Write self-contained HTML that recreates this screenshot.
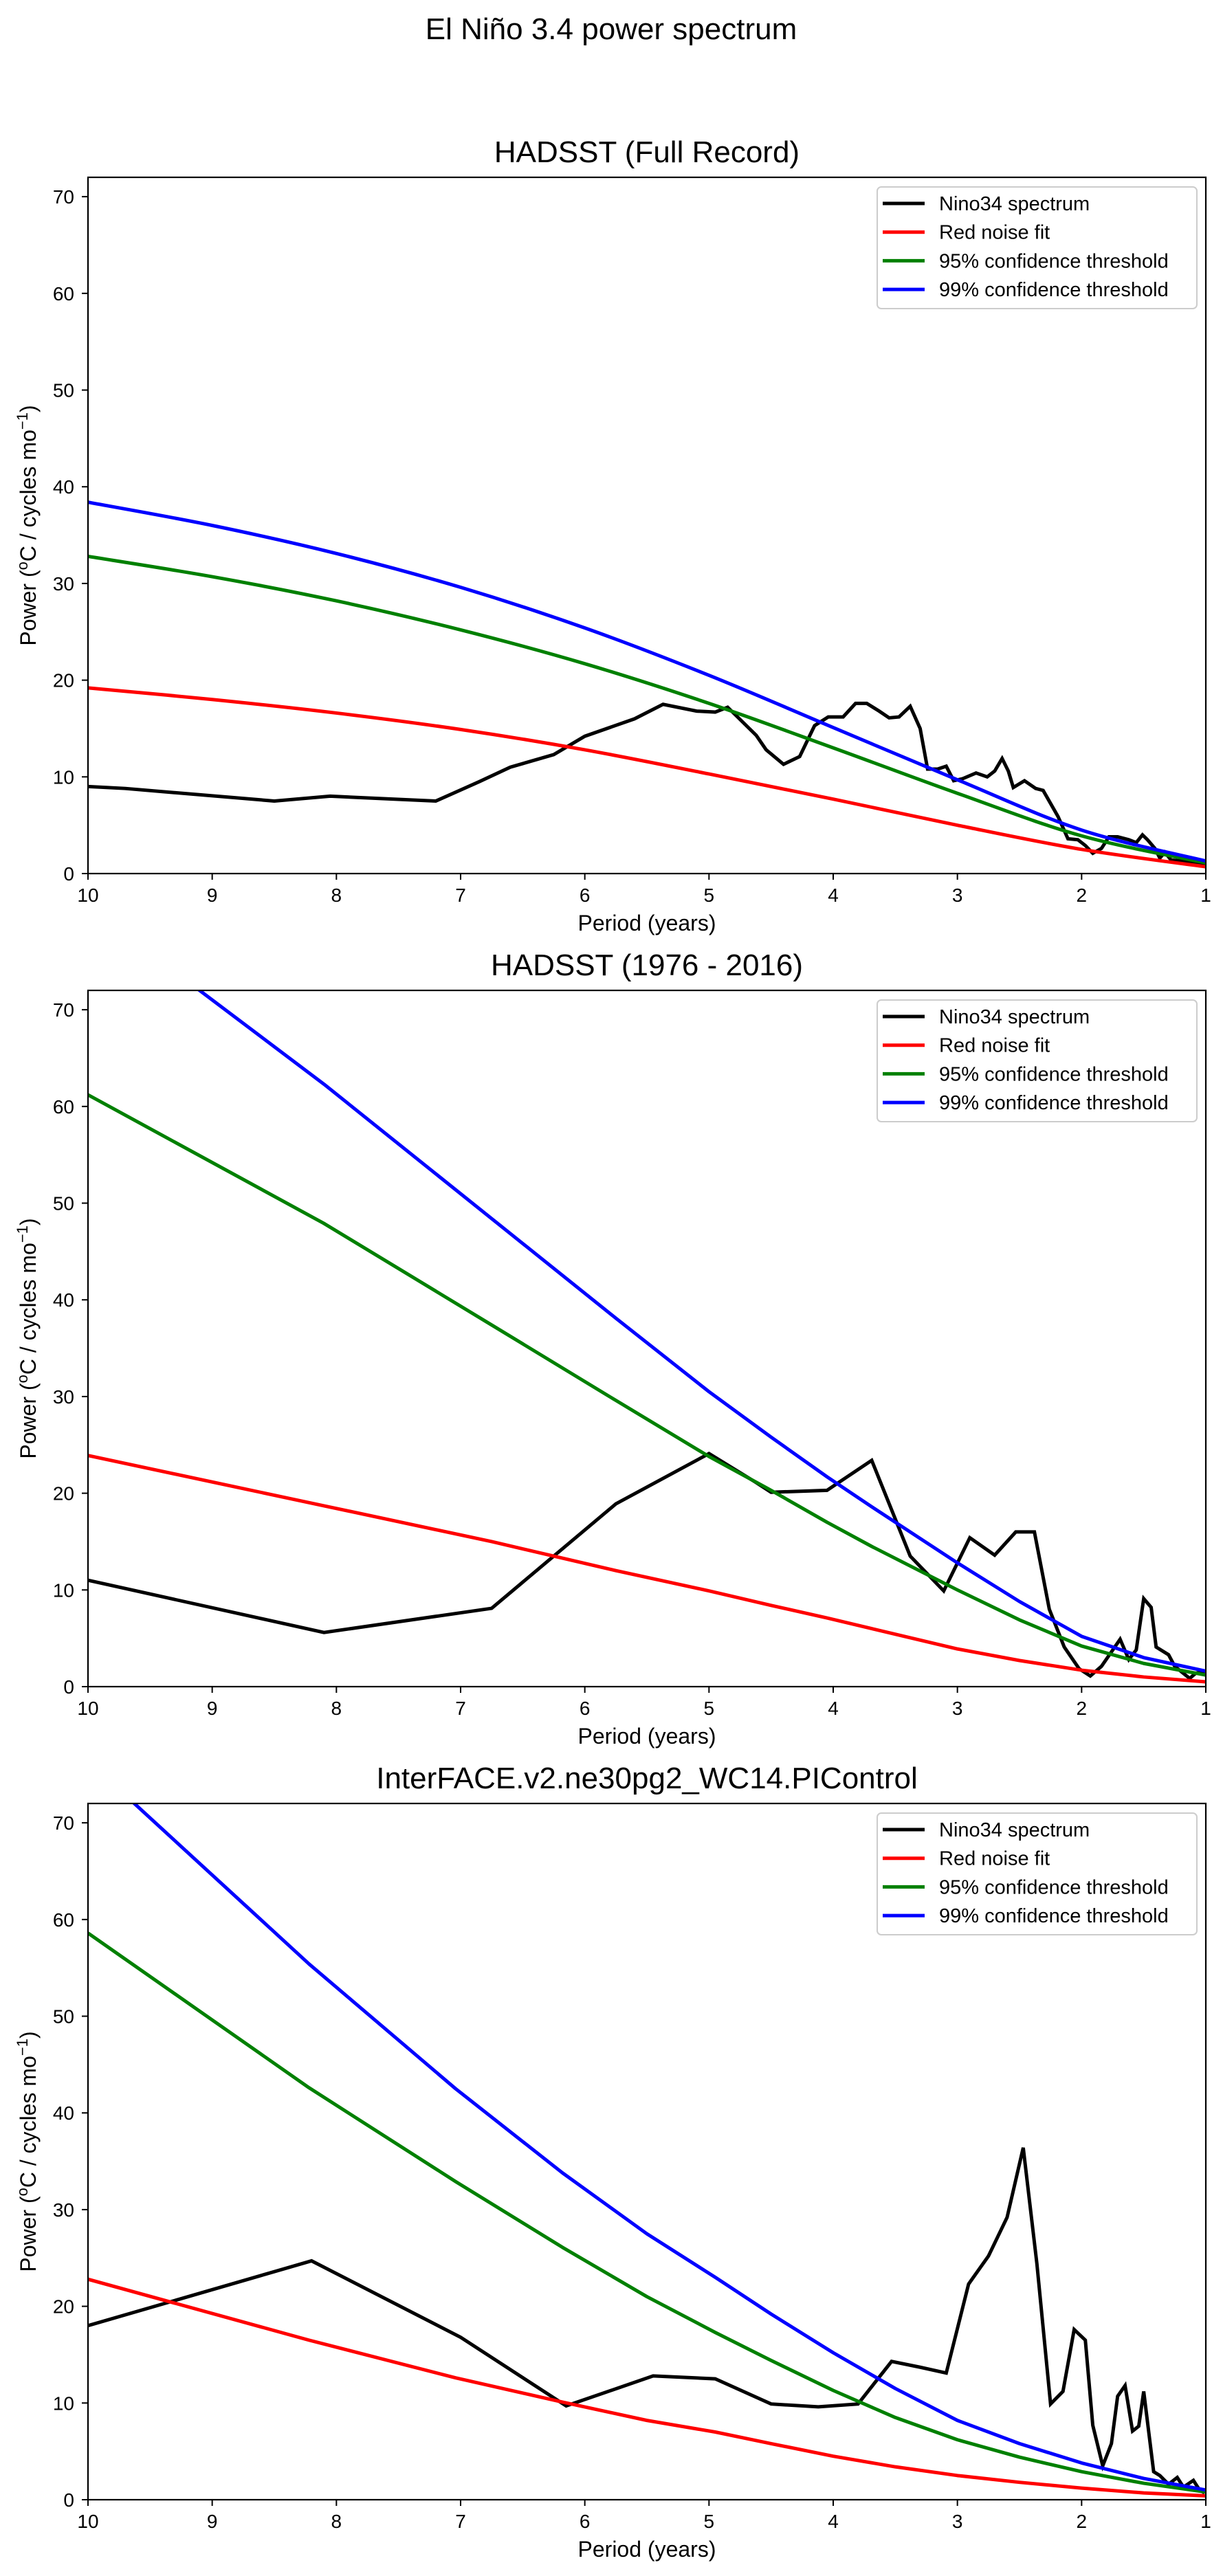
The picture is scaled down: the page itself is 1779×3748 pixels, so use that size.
<!DOCTYPE html>
<html><head><meta charset="utf-8">
<style>
html,body{margin:0;padding:0;background:#fff;}
svg{display:block;font-family:"Liberation Sans","DejaVu Sans",sans-serif;}
</style></head>
<body>
<svg id="fig" width="1779" height="3748" viewBox="0 0 1779 3748" xmlns="http://www.w3.org/2000/svg">
<rect width="1779" height="3748" fill="#fff"/>
<text x="889" y="57" font-size="44" text-anchor="middle">El Niño 3.4 power spectrum</text>
</svg>
<script>
const xTicks = [10,9,8,7,6,5,4,3,2,1];
const yTicks = [0,10,20,30,40,50,60,70];
const legendLabels = ["Nino34 spectrum","Red noise fit","95% confidence threshold","99% confidence threshold"];
const titles = ["HADSST (Full Record)","HADSST (1976 - 2016)","InterFACE.v2.ne30pg2_WC14.PIControl"];

// Panel 1: HADSST full record
const p1SpecPeriod = [10,9.7,8.5,8.05,7.2,6.85,6.6,6.25,6.0,5.6,5.37,5.1,4.95,4.85,4.62,4.54,4.40,4.27,4.15,4.04,3.92,3.82,3.73,3.63,3.55,3.47,3.38,3.30,3.24,3.16,3.09,3.03,2.96,2.85,2.76,2.70,2.64,2.59,2.55,2.46,2.37,2.31,2.19,2.11,2.03,1.97,1.91,1.84,1.78,1.71,1.62,1.56,1.51,1.47,1.41,1.37,1.33,1.28,1.20,1.13,1.0];
const p1SpecPower  = [9.0,8.8,7.5,8.0,7.5,9.5,11.0,12.3,14.2,16.0,17.5,16.8,16.7,17.2,14.3,12.8,11.3,12.1,15.3,16.2,16.2,17.6,17.6,16.8,16.1,16.2,17.3,15.0,10.8,10.8,11.1,9.6,9.8,10.4,10.0,10.6,11.9,10.6,8.9,9.6,8.8,8.6,5.9,3.6,3.5,2.9,2.1,2.6,3.8,3.8,3.5,3.2,4.0,3.5,2.6,1.6,2.2,1.4,1.3,1.1,0.9];
const p1CurvePeriod = [10,9,8,7,6,5,4,3,2,1];
const p1Red   = [19.2,18.0,16.6,14.9,12.8,10.3,7.7,5.0,2.5,0.7];
const p1Green = [32.8,30.7,28.2,25.2,21.7,17.6,13.0,8.3,3.9,1.1];
const p1Blue  = [38.4,36.0,33.1,29.6,25.4,20.5,15.1,9.7,4.5,1.3];

// Panel 2: HADSST 1976-2016
const p2SpecPeriod = [10,8.1,6.75,5.75,5.0,4.62,4.50,4.05,3.69,3.38,3.11,2.90,2.70,2.53,2.38,2.26,2.14,2.02,1.93,1.84,1.69,1.62,1.56,1.50,1.44,1.40,1.30,1.25,1.13,1.08,1.0];
const p2SpecPower  = [11.0,5.6,8.1,18.9,24.1,21.1,20.1,20.3,23.4,13.5,9.9,15.4,13.6,16.0,16.0,8.0,4.1,1.85,1.1,2.1,4.9,2.8,3.8,9.1,8.2,4.1,3.3,2.1,0.85,1.4,1.6];
const p2CurvePeriod = [10,8.1,6.75,5.75,5.0,4.5,4.05,3.69,3.0,2.5,2.0,1.5,1.0];
const p2Red   = [23.9,18.7,15.0,12.0,9.9,8.4,7.1,6.0,3.9,2.7,1.7,1.0,0.5];
const p2Green = [61.2,47.9,37.4,29.6,23.8,20.3,17.0,14.5,10.0,6.9,4.2,2.4,1.2];
const p2Blue  = [80.7,62.3,48.4,38.1,30.5,25.8,21.7,18.6,12.8,8.8,5.2,3.0,1.6];

// Panel 3: model PIControl
const p3SpecPeriod = [10,8.2,7.0,6.15,5.45,4.95,4.50,4.12,3.80,3.53,3.30,3.09,2.91,2.75,2.60,2.47,2.36,2.25,2.15,2.06,1.97,1.91,1.83,1.76,1.71,1.65,1.59,1.54,1.50,1.42,1.37,1.30,1.23,1.18,1.10,1.05,1.01];
const p3SpecPower  = [18.0,24.7,16.8,9.7,12.8,12.5,9.9,9.6,9.9,14.3,13.7,13.1,22.3,25.2,29.2,36.4,24.4,9.9,11.2,17.6,16.5,7.7,3.5,5.8,10.7,11.8,7.1,7.6,11.2,2.9,2.5,1.6,2.3,1.3,2.0,1.0,0.7];
const p3CurvePeriod = [10,8.22,7.04,6.18,5.5,4.95,4.5,4.0,3.5,3.0,2.5,2.0,1.5,1.0];
const p3Red   = [22.8,16.5,12.6,10.1,8.2,7.0,5.8,4.5,3.4,2.5,1.8,1.2,0.7,0.4];
const p3Green = [58.6,42.6,32.9,26.1,21.0,17.3,14.4,11.3,8.5,6.2,4.4,2.9,1.7,0.8];
const p3Blue  = [76.4,55.4,42.5,33.8,27.5,23.0,19.2,15.2,11.5,8.2,5.8,3.8,2.2,1.0];

const panels = [
  {spP:p1SpecPeriod, spV:p1SpecPower, cP:p1CurvePeriod, red:p1Red, green:p1Green, blue:p1Blue, smooth:true},
  {spP:p2SpecPeriod, spV:p2SpecPower, cP:p2CurvePeriod, red:p2Red, green:p2Green, blue:p2Blue, smooth:false},
  {spP:p3SpecPeriod, spV:p3SpecPower, cP:p3CurvePeriod, red:p3Red, green:p3Green, blue:p3Blue, smooth:false}
];

const NS = "http://www.w3.org/2000/svg";
const fig = document.getElementById('fig');
const AX_L = 128, AX_R = 1754, AX_H = 1013, PANEL_DY = 1183, FIRST_BOTTOM = 1271;
const YMAX = 72;

function mk(tag, attrs, parent){
  const e = document.createElementNS(NS, tag);
  for (const k in attrs) e.setAttribute(k, attrs[k]);
  parent.appendChild(e);
  return e;
}
function splinePath(pts){
  let d = "M" + pts[0][0].toFixed(2) + "," + pts[0][1].toFixed(2);
  for (let i=0;i<pts.length-1;i++){
    const p0 = pts[Math.max(0,i-1)], p1 = pts[i], p2 = pts[i+1], p3 = pts[Math.min(pts.length-1,i+2)];
    const c1x = p1[0]+(p2[0]-p0[0])/6, c1y = p1[1]+(p2[1]-p0[1])/6;
    const c2x = p2[0]-(p3[0]-p1[0])/6, c2y = p2[1]-(p3[1]-p1[1])/6;
    d += " C"+c1x.toFixed(2)+","+c1y.toFixed(2)+" "+c2x.toFixed(2)+","+c2y.toFixed(2)+" "+p2[0].toFixed(2)+","+p2[1].toFixed(2);
  }
  return d;
}
function linePath(pts){
  return "M" + pts.map(p=>p[0].toFixed(2)+","+p[1].toFixed(2)).join(" L");
}

panels.forEach((pd, i) => {
  const bottom = FIRST_BOTTOM + i*PANEL_DY;
  const top = bottom - AX_H;
  const xs = p => AX_L + (10 - p) * (AX_R - AX_L) / 9;
  const ys = v => bottom - v * (AX_H / YMAX);

  const g = mk('g', {}, fig);
  
  

  const t = mk('text', {x:(AX_L+AX_R)/2, y: top - 22, 'font-size':44, 'text-anchor':'middle'}, g);
  
  
  t.textContent = titles[i];

  const clipId = 'clip' + i;
  const cp = mk('clipPath', {id:clipId}, g);
  mk('rect', {x:AX_L, y:top, width:AX_R-AX_L, height:AX_H}, cp);

  const series = mk('g', {'clip-path':'url(#'+clipId+')'}, g);
  
  

  const sp = mk('polyline', {points: pd.spP.map((p,k)=>xs(p).toFixed(2)+','+ys(pd.spV[k]).toFixed(2)).join(' '),
    fill:'none', stroke:'#000', 'stroke-width':5, 'stroke-linejoin':'miter', 'stroke-miterlimit':4}, series);
  
  

  const curves = [[pd.red,'#ff0000','red-noise-fit'],[pd.green,'#008000','confidence-95-line'],[pd.blue,'#0000ff','confidence-99-line']];
  curves.forEach(c => {
    const pts = pd.cP.map((p,k)=>[xs(p), ys(c[0][k])]);
    const path = mk('path', {d: pd.smooth ? splinePath(pts) : linePath(pts), fill:'none', stroke:c[1], 'stroke-width':5, 'stroke-linejoin':'round'}, series);
    
    
  });

  const fr = mk('rect', {x:AX_L, y:top, width:AX_R-AX_L, height:AX_H, fill:'none', stroke:'#000', 'stroke-width':2.2}, g);
  
  

  xTicks.forEach(v => {
    const x = xs(v);
    mk('line', {x1:x, y1:bottom, x2:x, y2:bottom+9, stroke:'#000', 'stroke-width':2}, g);
    const tl = mk('text', {x:x, y:bottom+41, 'font-size':28, 'text-anchor':'middle'}, g);
    
    
    tl.textContent = v;
  });
  yTicks.forEach(v => {
    const y = ys(v);
    mk('line', {x1:AX_L-9, y1:y, x2:AX_L, y2:y, stroke:'#000', 'stroke-width':2}, g);
    const tl = mk('text', {x:AX_L-20, y:y+10, 'font-size':28, 'text-anchor':'end'}, g);
    
    
    tl.textContent = v;
  });

  const xl = mk('text', {x:(AX_L+AX_R)/2, y:bottom+83, 'font-size':32, 'text-anchor':'middle'}, g);
  
  
  xl.textContent = 'Period (years)';

  const cy = (top+bottom)/2;
  const yl = mk('text', {x:0, y:0, 'font-size':32, 'text-anchor':'middle', transform:'translate(52,'+cy+') rotate(-90)'}, g);
  
  
  yl.innerHTML = 'Power (<tspan font-size="22" dy="-12">o</tspan><tspan dy="12">C / cycles mo</tspan><tspan font-size="22" dy="-12">−1</tspan><tspan dy="12">)</tspan>';

  const lg = mk('g', {}, g);
  
  
  const lt = top + 14;
  mk('rect', {x:1276, y:lt, width:465, height:177, rx:6, fill:'#fff', 'fill-opacity':0.85, stroke:'#cccccc', 'stroke-width':2}, lg);
  const cols = ['#000','#ff0000','#008000','#0000ff'];
  legendLabels.forEach((lab,k) => {
    const ry = lt + 24 + k*41.7;
    const ln = mk('line', {x1:1284, y1:ry, x2:1345, y2:ry, stroke:cols[k], 'stroke-width':5}, lg);
    
    
    const tx = mk('text', {x:1366, y:ry+10, 'font-size':29}, lg);
    
    
    tx.textContent = lab;
  });
});
</script>
</body></html>
